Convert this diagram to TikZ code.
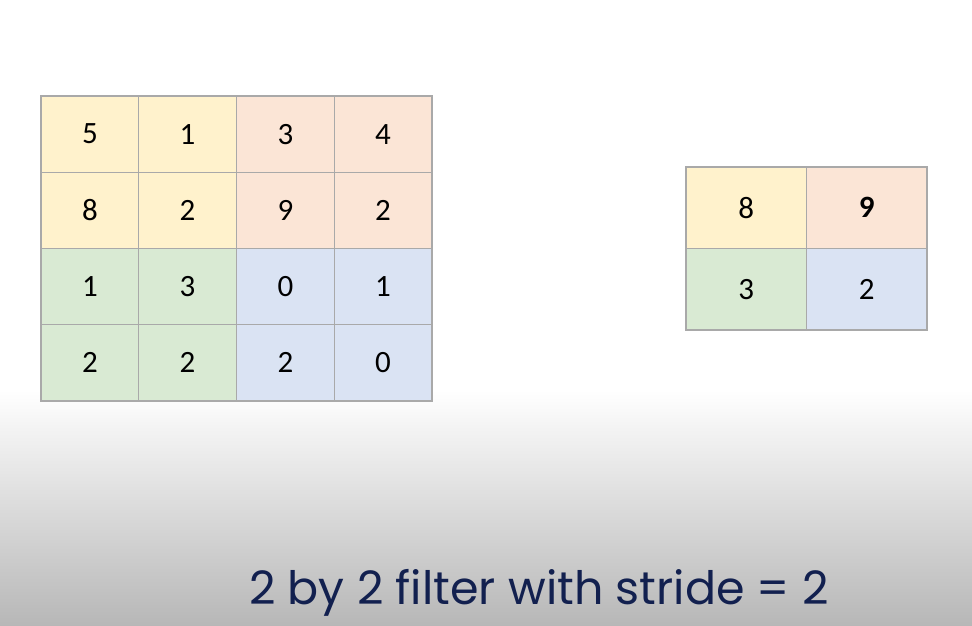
\documentclass[tikz,border=0pt]{standalone}
\usepackage{fontspec}
\setmainfont{Carlito}
\newfontfamily\captionfont{Poppins}
\definecolor{cellyellow}{HTML}{FFF2CC}
\definecolor{cellpeach}{HTML}{FBE5D6}
\definecolor{cellgreen}{HTML}{D9EAD3}
\definecolor{cellblue}{HTML}{DAE3F3}
\definecolor{gridline}{HTML}{A9A9A9}
\definecolor{navytext}{HTML}{12204F}
\definecolor{floorgray}{HTML}{B7B7B7}
\begin{document}
\begin{tikzpicture}[x = 1pt, y = 1pt,
  cell/.style = {draw = gridline, line width = 1.2, minimum width = 97.75, minimum height = 76.25, inner sep = 0, font = \fontsize{31}{36}\selectfont},
  outcell/.style = {cell, minimum width = 120.5, minimum height = 81.5}]
\useasboundingbox (0, 0) rectangle (972, 626);
\fill [white](0, 0) rectangle (972, 626);
\shade [top color = white, bottom color = floorgray](0, 0) rectangle (972, 236);

% input 4x4
\node (a11) [cell, fill = cellyellow] at (89.9, 491.9) {5};
\node (a12) [cell, fill = cellyellow] at (187.6, 491.9) {1};
\node (a13) [cell, fill = cellpeach] at (285.4, 491.9) {3};
\node (a14) [cell, fill = cellpeach] at (383.1, 491.9) {4};

\node (a21) [cell, fill = cellyellow] at (89.9, 415.6) {8};
\node (a22) [cell, fill = cellyellow] at (187.6, 415.6) {2};
\node (a23) [cell, fill = cellpeach] at (285.4, 415.6) {9};
\node (a24) [cell, fill = cellpeach] at (383.1, 415.6) {2};

\node (a31) [cell, fill = cellgreen] at (89.9, 339.4) {1};
\node (a32) [cell, fill = cellgreen] at (187.6, 339.4) {3};
\node (a33) [cell, fill = cellblue] at (285.4, 339.4) {0};
\node (a34) [cell, fill = cellblue] at (383.1, 339.4) {1};

\node (a41) [cell, fill = cellgreen] at (89.9, 263.1) {2};
\node (a42) [cell, fill = cellgreen] at (187.6, 263.1) {2};
\node (a43) [cell, fill = cellblue] at (285.4, 263.1) {2};
\node (a44) [cell, fill = cellblue] at (383.1, 263.1) {0};

% pooled 2x2
\node (b11) [outcell, fill = cellyellow] at (746.25, 418.25) {8};
\node (b12) [outcell, fill = cellpeach] at (866.75, 418.25) {\bfseries 9};
\node (b21) [outcell, fill = cellgreen] at (746.25, 336.75) {3};
\node (b22) [outcell, fill = cellblue] at (866.75, 336.75) {2};

\node (caption) [text = navytext, font = \captionfont\fontsize{46}{54}\selectfont, anchor = base] at (539, 21) {2 by 2 filter with stride = 2};
\end{tikzpicture}
\end{document}
